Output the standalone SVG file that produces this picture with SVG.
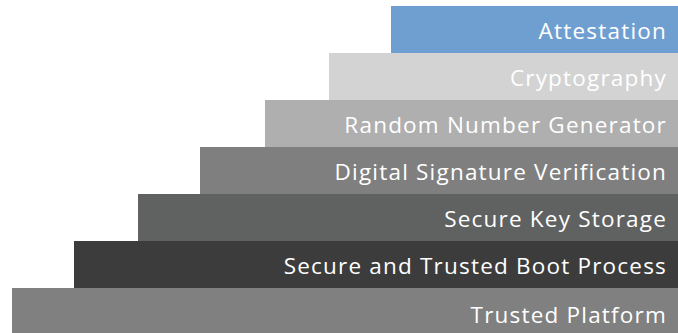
<svg xmlns="http://www.w3.org/2000/svg" width="678" height="333" viewBox="0 0 678 333">
<style>
text{font-family:"Open Sans","Noto Sans",sans-serif;font-size:22.5px;fill:#ffffff;text-anchor:end;letter-spacing:1.2px}
</style>
<rect width="678" height="333" fill="#ffffff"/>
<g id="trusted-platform"><rect x="12" y="288" width="666" height="45" fill="#808080"/><text x="667" y="323">Trusted Platform</text></g>
<g id="secure-boot"><rect x="74" y="241" width="604" height="47" fill="#3c3c3c"/><text x="667" y="274">Secure and Trusted Boot Process</text></g>
<g id="secure-key-storage"><rect x="138" y="194" width="540" height="47" fill="#606261"/><text x="667" y="227">Secure Key Storage</text></g>
<g id="digital-signature"><rect x="200" y="147" width="478" height="47" fill="#7f7f7f"/><text x="667" y="180">Digital Signature Verification</text></g>
<g id="rng"><rect x="265" y="100" width="413" height="47" fill="#afafaf"/><text x="667" y="133">Random Number Generator</text></g>
<g id="cryptography"><rect x="329" y="53" width="349" height="47" fill="#d3d3d3"/><text x="667" y="86">Cryptography</text></g>
<g id="attestation"><rect x="391" y="6" width="287" height="47" fill="#6f9fd0"/><text x="667" y="39">Attestation</text></g>
<g id="connectors"/>
</svg>
